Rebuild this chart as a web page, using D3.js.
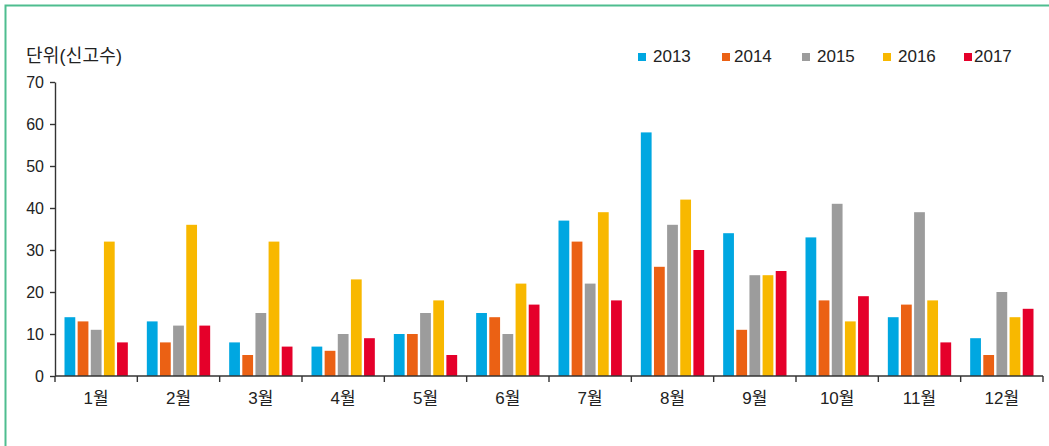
<!DOCTYPE html>
<html><head><meta charset="utf-8">
<script src="https://cdn.jsdelivr.net/npm/d3@7"></script>
<style>
html,body{margin:0;padding:0;background:#fff;}
svg{display:block;}
text{font-family:"Liberation Sans","Noto Sans CJK KR",sans-serif;fill:#222;}
</style></head>
<body>
<svg id="c" width="1049" height="446"></svg>
<script>
const months = ["1월","2월","3월","4월","5월","6월","7월","8월","9월","10월","11월","12월"];
const years = ["2013","2014","2015","2016","2017"];
const colors = ["#00A7E1","#EB6114","#9C9C9C","#F8B800","#E5002A"];
const s2013 = [14,13,8,7,10,15,37,58,34,33,14,9];
const s2014 = [13,8,5,6,10,14,32,26,11,18,17,5];
const s2015 = [11,12,15,10,15,10,22,36,24,41,39,20];
const s2016 = [32,36,32,23,18,22,39,42,24,13,18,14];
const s2017 = [8,12,7,9,5,17,18,30,25,19,8,16];
const yTicks = [0,10,20,30,40,50,60,70];
const unitLabel = "단위(신고수)";

const series = [s2013,s2014,s2015,s2016,s2017];
const svg = d3.select("#c");

// frame
svg.append("path").attr("d","M5.5,446 V5.5 H1049").attr("fill","none")
  .attr("stroke","#4FBD8F").attr("stroke-width",2);

const x0 = d3.scaleBand().domain(months).range([55,1043]).padding(0);
const x1 = d3.scaleBand().domain(years).range([9.5, x0.bandwidth()-9.5]).paddingInner(0.18).paddingOuter(0);
const y = d3.scaleLinear().domain([0,70]).range([376,82]);

// bars
const g = svg.append("g");
months.forEach((m,i)=>{
  years.forEach((yr,j)=>{
    const v = series[j][i];
    g.append("rect")
      .attr("x", x0(m)+x1(yr))
      .attr("y", y(v))
      .attr("width", x1.bandwidth())
      .attr("height", y(0)-y(v))
      .attr("fill", colors[j]);
  });
});

// y axis
const ya = svg.append("g").attr("transform","translate(55,0)")
  .call(d3.axisLeft(y).tickValues(yTicks).tickSize(5).tickSizeOuter(0).tickPadding(6));
ya.select(".domain").attr("stroke","#333").attr("stroke-width",1.4);
ya.selectAll(".tick line").attr("stroke","#333").attr("stroke-width",1.4);
ya.selectAll("text").style("font-size","16px").attr("fill","#222").attr("dy","0.35em");

// x axis baseline and boundary ticks
svg.append("line").attr("x1",55).attr("x2",1043).attr("y1",y(0)).attr("y2",y(0))
  .attr("stroke","#333").attr("stroke-width",1.4);
const bounds = months.map(m=>x0(m)).concat([x0(months[months.length-1])+x0.bandwidth()]);
svg.selectAll(".xt").data(bounds).enter().append("line")
  .attr("x1",d=>d).attr("x2",d=>d).attr("y1",y(0)).attr("y2",y(0)+6)
  .attr("stroke","#333").attr("stroke-width",1.4);
svg.selectAll(".xl").data(months).enter().append("text")
  .attr("x",d=>x0(d)+x0.bandwidth()/2).attr("y",404)
  .attr("text-anchor","middle").style("font-size","17px").text(d=>d);

// unit label
svg.append("text").attr("x",26).attr("y",62).style("font-size","18px").attr("textLength",96).text(unitLabel);

// legend
const legX = [638,722,802,883,964];
const txtX = [653,734,817,898,974];
years.forEach((yr,j)=>{
  svg.append("rect").attr("x",legX[j]).attr("y",53).attr("width",8).attr("height",8).attr("fill",colors[j]);
  svg.append("text").attr("x",txtX[j]).attr("y",62).style("font-size","17px").text(yr);
});
</script>
</body></html>
